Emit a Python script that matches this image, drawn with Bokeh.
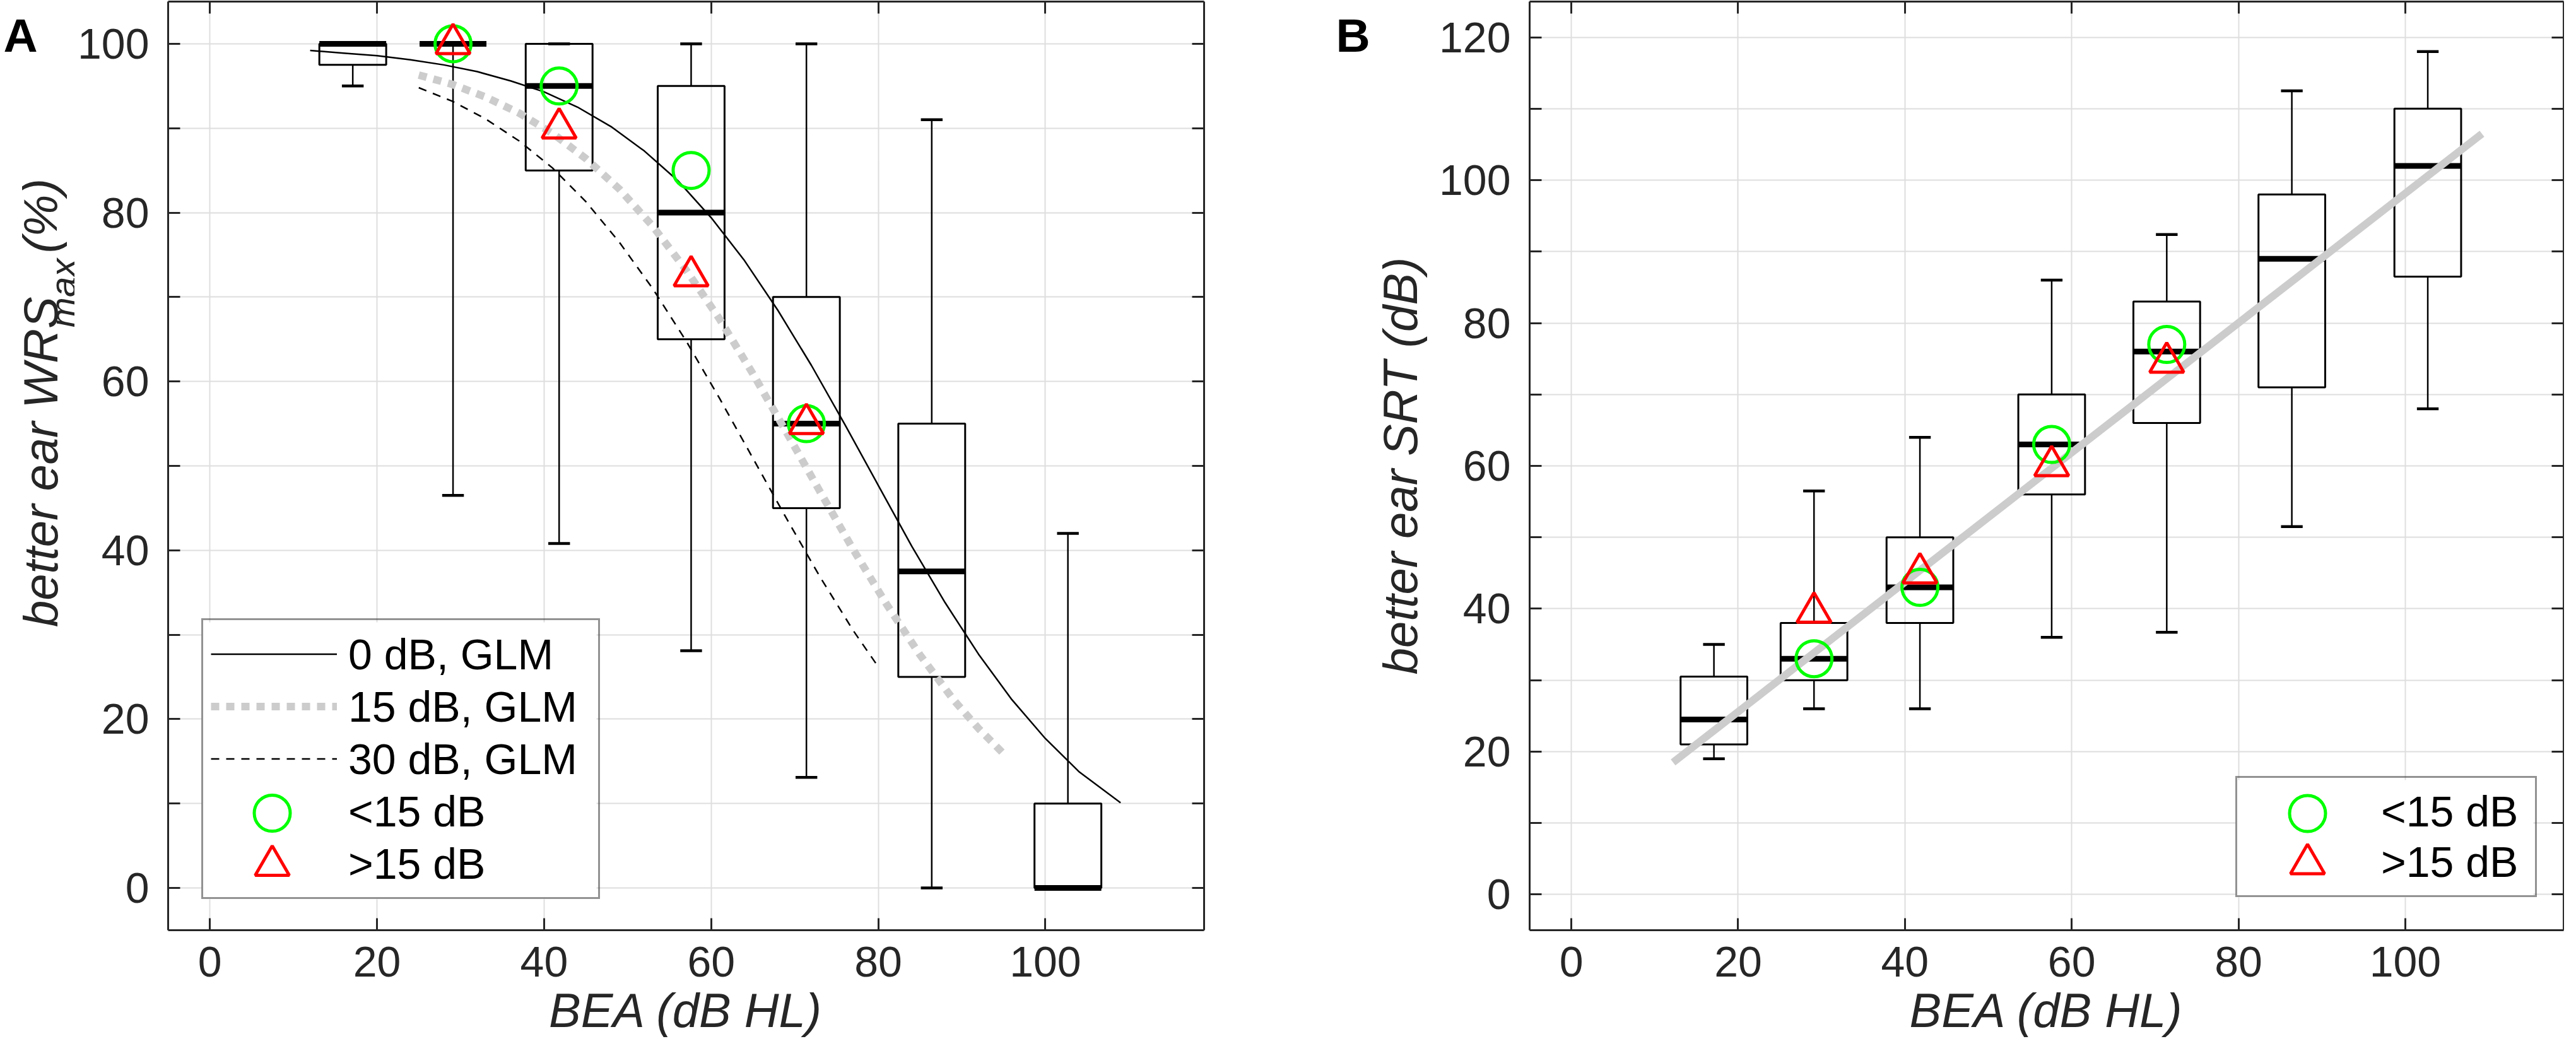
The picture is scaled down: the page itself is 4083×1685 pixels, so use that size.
from math import pi
from bokeh.plotting import figure
from bokeh.models import Range1d, LinearAxis, FixedTicker, Legend, LegendItem
from bokeh.layouts import row
from bokeh.embed import file_html
from bokeh.resources import INLINE
from bokeh.core.properties import value

# ---------------- data ----------------
positions = [17.1, 29.1, 41.8, 57.6, 71.4, 86.4, 102.7]

# Panel A: better ear WRSmax (%)
wrs_lo = [95, 46.5, 40.8, 28.1, 13.1, 0, 0]
wrs_q1 = [97.5, 100, 85, 65, 45, 25, 0]
wrs_med = [100, 100, 95, 80, 55, 37.5, 0]
wrs_q3 = [100, 100, 100, 95, 70, 55, 10]
wrs_hi = [100, 100, 100, 100, 100, 91, 42]

group_x = [29.1, 41.8, 57.6, 71.4]
wrs_lt15 = [100, 95, 85, 55]
wrs_gt15 = [100, 90, 72.5, 55]

glm0_x = [12, 16, 20, 24, 28, 32, 36, 40, 44, 48, 52, 56, 60, 64, 68, 72, 76, 80, 84, 88, 92, 96, 100, 104, 109]
glm0_y = [99.2, 98.9, 98.6, 98.1, 97.5, 96.7, 95.6, 94.3, 92.5, 90.2, 87.3, 83.8, 79.4, 74.3, 68.4, 61.9, 54.9,
          47.7, 40.5, 33.8, 27.7, 22.3, 17.7, 13.8, 10.1]
glm15_x = [25, 29, 33, 37, 41, 45, 49, 53, 57, 61, 65, 69, 73, 77, 81, 85, 89, 92, 95]
glm15_y = [96.3, 95.2, 93.7, 91.8, 89.4, 86.4, 82.8, 78.4, 73.2, 67.4, 60.9, 54.0, 47.0, 40.1, 33.6, 27.6, 22.3,
           18.9, 15.9]
glm30_x = [25, 29, 33, 37, 41, 45, 49, 53, 57, 61, 65, 69, 73, 77, 80]
glm30_y = [94.8, 93.2, 91.1, 88.5, 85.3, 81.3, 76.5, 71.0, 64.8, 58.0, 50.9, 43.8, 36.9, 30.5, 26.2]

# Panel B: better ear SRT (dB)
srt_lo = [19, 26, 26, 36, 36.7, 51.5, 68]
srt_q1 = [21, 30, 38, 56, 66, 71, 86.5]
srt_med = [24.5, 33, 43, 63, 76, 89, 102]
srt_q3 = [30.5, 38, 50, 70, 83, 98, 110]
srt_hi = [35, 56.5, 64, 86, 92.4, 112.5, 118]

srt_lt15 = [33, 43, 63, 77]
srt_gt15 = [39.5, 45, 60, 74.5]

srt_fit_x = [12.2, 109.2]
srt_fit_y = [18.5, 106.5]

x_ticks = [0, 20, 40, 60, 80, 100]
wrs_ticks = [0, 10, 20, 30, 40, 50, 60, 70, 80, 90, 100]
srt_ticks = [0, 10, 20, 30, 40, 50, 60, 70, 80, 90, 100, 110, 120]

labels_glm = ["0 dB, GLM", "15 dB, GLM", "30 dB, GLM"]
labels_grp = ["<15 dB", ">15 dB"]
ylabel_a = ["better ear WRS", "max", "(%)"]
ylabel_b = "better ear SRT (dB)"
xlabel = "BEA (dB HL)"

# ---------------- style ----------------
FONT = "Liberation Sans"
AX = "#262626"
GRID = "#dedede"
TICK_FS = "68px"
LABEL_FS = "76px"
FRAME_H = 1472
BOX_HALF = 4.0
CAP_HALF = 1.3
CIRCLE_SIZE = 57
TRI_SIZE = 54
MARK_W = 5
GREEN = "#00ff00"
RED = "#ff0000"
STRIP_H = 1476


def style_axis(ax, show_labels=True):
    ax.axis_line_color = AX
    ax.axis_line_width = 3
    ax.major_tick_line_color = AX
    ax.major_tick_line_width = 3
    ax.major_tick_in = 19
    ax.major_tick_out = 0
    ax.minor_tick_line_color = None
    ax.major_label_text_font = FONT
    if show_labels:
        ax.major_label_text_color = AX
        ax.major_label_text_font_size = TICK_FS
    else:
        ax.major_label_text_color = None
        ax.major_label_text_font_size = "1px"
        ax.major_label_standoff = 0
        ax.axis_label = None


def make_fig(frame_w, ylim, yticks, border_left, border_right):
    p = figure(frame_width=frame_w, frame_height=FRAME_H, x_range=Range1d(-5, 119), y_range=Range1d(*ylim),
               output_backend="svg", toolbar_location=None, tools="",
               min_border_left=border_left, min_border_right=border_right,
               min_border_top=2, min_border_bottom=0)
    p.extra_x_ranges = {"px": Range1d(0, frame_w)}
    p.extra_y_ranges = {"px": Range1d(0, FRAME_H)}
    p.outline_line_color = None
    p.background_fill_color = "white"
    p.border_fill_color = "white"
    xt = FixedTicker(ticks=x_ticks)
    yt = FixedTicker(ticks=yticks)
    p.xaxis[0].ticker = xt
    p.yaxis[0].ticker = yt
    style_axis(p.xaxis[0])
    style_axis(p.yaxis[0])
    p.yaxis[0].major_label_overrides = {t: "" for t in yticks if t % 20 != 0}
    p.xaxis[0].major_label_standoff = 26
    p.yaxis[0].major_label_standoff = 30
    p.xaxis[0].axis_label = xlabel
    p.xaxis[0].axis_label_text_font = FONT
    p.xaxis[0].axis_label_text_font_size = LABEL_FS
    p.xaxis[0].axis_label_text_font_style = "italic"
    p.xaxis[0].axis_label_text_color = AX
    p.xaxis[0].axis_label_standoff = 8
    top = LinearAxis(ticker=FixedTicker(ticks=x_ticks))
    style_axis(top, False)
    right = LinearAxis(ticker=FixedTicker(ticks=yticks))
    style_axis(right, False)
    p.add_layout(top, "above")
    p.add_layout(right, "right")
    p.xgrid.ticker = xt
    p.ygrid.ticker = yt
    for g in (p.xgrid[0], p.ygrid[0]):
        g.grid_line_color = GRID
        g.grid_line_width = 2
    return p


def make_strip(w):
    s = figure(width=w, height=STRIP_H, x_range=Range1d(0, w), y_range=Range1d(0, STRIP_H),
               output_backend="svg", toolbar_location=None, tools="",
               x_axis_location=None, y_axis_location=None,
               min_border_left=0, min_border_right=0, min_border_top=0, min_border_bottom=0)
    s.grid.visible = False
    s.outline_line_color = None
    s.background_fill_color = "white"
    s.border_fill_color = "white"
    return s


def put_text(s, x, y, txt, size, style="normal", angle=0.0, color=AX):
    s.text(x=[x], y=[y], text=[txt], angle=angle, text_font=value(FONT), text_font_size=value(size),
           text_font_style=value(style), text_align=value("left"), text_baseline=value("alphabetic"),
           text_color=color)


def draw_boxes(p, lo, q1, med, q3, hi):
    left = [x - BOX_HALF for x in positions]
    right = [x + BOX_HALF for x in positions]
    cl = [x - CAP_HALF for x in positions]
    cr = [x + CAP_HALF for x in positions]
    p.segment(x0=positions, y0=q3, x1=positions, y1=hi, line_color="black", line_width=2.5)
    p.segment(x0=positions, y0=lo, x1=positions, y1=q1, line_color="black", line_width=2.5)
    p.segment(x0=cl, y0=hi, x1=cr, y1=hi, line_color="black", line_width=4.5)
    p.segment(x0=cl, y0=lo, x1=cr, y1=lo, line_color="black", line_width=4.5)
    p.quad(left=left, right=right, bottom=q1, top=q3, fill_color=None, line_color="black", line_width=3)
    p.segment(x0=left, y0=med, x1=right, y1=med, line_color="black", line_width=9, line_cap="butt")


def circle_kw():
    return dict(marker="circle", size=CIRCLE_SIZE, fill_color=None, line_color=GREEN, line_width=MARK_W)


def tri_kw():
    return dict(marker="triangle", size=TRI_SIZE, fill_color=None, line_color=RED, line_width=MARK_W)


def draw_groups(p, lt, gt):
    p.scatter(group_x, lt, **circle_kw())
    p.scatter(group_x, gt, **tri_kw())
    # legend stand-ins: the full-size swatches are drawn under the (transparent) legend, see add_legend
    dc = p.scatter(x=[], y=[], marker="circle", size=1, line_alpha=0, fill_alpha=0)
    dt = p.scatter(x=[], y=[], marker="triangle", size=1, line_alpha=0, fill_alpha=0)
    return dc, dt


def add_legend(p, items, loc, pad, gw, gh, standoff, lw, n_marker_rows):
    n = len(items)
    box_w = 2 * pad + gw + standoff + lw
    box_h = 2 * pad + n * gh
    # white legend panel + full-size marker swatches (drawn as glyphs in frame pixels)
    p.quad(left=[loc[0]], right=[loc[0] + box_w], bottom=[loc[1]], top=[loc[1] + box_h],
           x_range_name="px", y_range_name="px", fill_color="white", line_color=None)
    cx = loc[0] + pad + gw / 2
    top = loc[1] + box_h
    kws = [circle_kw(), tri_kw()]
    for k in range(n_marker_rows):
        i = n - n_marker_rows + k
        cy = top - pad - gh * (i + 0.5)
        p.scatter(x=[cx], y=[cy], x_range_name="px", y_range_name="px", **kws[k])
    lg = Legend(items=items, location=loc)
    lg.glyph_width = gw
    lg.glyph_height = gh
    lg.label_height = gh
    lg.spacing = 0
    lg.padding = pad
    lg.margin = 0
    lg.label_standoff = standoff
    lg.label_width = lw
    lg.label_text_font = FONT
    lg.label_text_font_size = "68px"
    lg.label_text_color = "black"
    lg.border_line_color = AX
    lg.border_line_width = 3
    lg.background_fill_color = None
    p.add_layout(lg)


# ---------------- panel A ----------------
stripA = make_strip(118)
put_text(stripA, 5, STRIP_H - 61, "A", "75px", style="bold", color="black")
put_text(stripA, 64, 352, ylabel_a[0], LABEL_FS, style="italic", angle=pi / 2)
put_text(stripA, 99, 890, ylabel_a[1], "58px", style="italic", angle=pi / 2)
put_text(stripA, 63, 1024, ylabel_a[2], LABEL_FS, style="italic", angle=pi / 2)

pA = make_fig(1642, (-5, 105), wrs_ticks, 148, 200)
draw_boxes(pA, wrs_lo, wrs_q1, wrs_med, wrs_q3, wrs_hi)
r0 = pA.line(glm0_x, glm0_y, line_color="black", line_width=2.5)
r15 = pA.line(glm15_x, glm15_y, line_color="#cccccc", line_width=12, line_dash="13 11")
r30 = pA.line(glm30_x, glm30_y, line_color="black", line_width=2.5, line_dash="13 11")
dcA, dtA = draw_groups(pA, wrs_lt15, wrs_gt15)
add_legend(pA, [LegendItem(label=labels_glm[0], renderers=[r0]),
                LegendItem(label=labels_glm[1], renderers=[r15]),
                LegendItem(label=labels_glm[2], renderers=[r30]),
                LegendItem(label=labels_grp[0], renderers=[dcA]),
                LegendItem(label=labels_grp[1], renderers=[dtA])],
           loc=(53, 49), pad=12, gw=200, gh=83, standoff=18, lw=384, n_marker_rows=2)

# ---------------- panel B ----------------
stripB = make_strip(66)
put_text(stripB, 9, STRIP_H - 61, "B", "75px", style="bold", color="black")

pB = make_fig(1639, (-5, 125), srt_ticks, 250, 1)
pB.yaxis[0].axis_label = ylabel_b
pB.yaxis[0].axis_label_text_font = FONT
pB.yaxis[0].axis_label_text_font_size = LABEL_FS
pB.yaxis[0].axis_label_text_font_style = "italic"
pB.yaxis[0].axis_label_text_color = AX
pB.yaxis[0].axis_label_standoff = 16
draw_boxes(pB, srt_lo, srt_q1, srt_med, srt_q3, srt_hi)
pB.line(srt_fit_x, srt_fit_y, line_color="#cccccc", line_width=12)
dcB, dtB = draw_groups(pB, srt_lt15, srt_gt15)
add_legend(pB, [LegendItem(label=labels_grp[0], renderers=[dcB]),
                LegendItem(label=labels_grp[1], renderers=[dtB])],
           loc=(1119, 52), pad=13, gw=202, gh=80, standoff=13, lw=231, n_marker_rows=2)

layout = row(stripA, pA, stripB, pB)
open("out.html", "w").write(file_html(layout, INLINE))
